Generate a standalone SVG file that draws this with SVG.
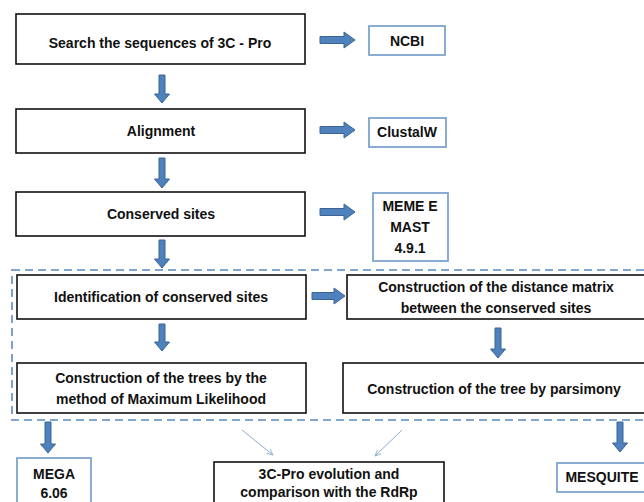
<svg xmlns="http://www.w3.org/2000/svg" width="644" height="502" viewBox="0 0 644 502">
<defs>
<style>
.box{fill:#fff;stroke:#111;stroke-width:1.6}
.tool{fill:#fff;stroke:#7EA3CF;stroke-width:1.8}
.arr{fill:#4F81BD;stroke:#3A6494;stroke-width:1}
.dash{fill:none;stroke:#5A8AC0;stroke-width:1.6;stroke-dasharray:8 5}
.thin{stroke:#8FAACB;stroke-width:1;fill:none}
text{font-family:"Liberation Sans",Arial,sans-serif;font-weight:bold;font-size:14px;fill:#111;text-anchor:middle;dominant-baseline:central}
</style>
<marker id="th" viewBox="0 0 10 10" refX="9" refY="5" markerWidth="7" markerHeight="7" orient="auto" markerUnits="userSpaceOnUse">
<path d="M0,1 L9,5 L0,9" fill="none" stroke="#8FAACB" stroke-width="1.2"/>
</marker>
</defs>
<rect class="dash" x="12" y="270" width="650" height="150"/>
<g id="n1"><rect class="box" x="16" y="14" width="289" height="50"/><text x="160" y="43">Search the sequences of 3C - Pro</text></g>
<g id="n2"><rect class="box" x="16" y="109" width="289" height="44"/><text x="161" y="131">Alignment</text></g>
<g id="n3"><rect class="box" x="16" y="192" width="289" height="44"/><text x="161" y="214">Conserved sites</text></g>
<g id="ncbi"><rect class="tool" x="369" y="26" width="76" height="29"/><text x="407" y="41">NCBI</text></g>
<g id="clustal"><rect class="tool" x="369" y="118" width="77" height="29"/><text x="407" y="132">ClustalW</text></g>
<g id="meme"><rect class="tool" x="373" y="193" width="75" height="68"/><text x="410" y="206">MEME E</text><text x="410" y="227">MAST</text><text x="410" y="248">4.9.1</text></g>
<g id="n4"><rect class="box" x="17" y="275" width="289" height="44"/><text x="161" y="297">Identification of conserved sites</text></g>
<g id="n5"><rect class="box" x="347" y="275" width="310" height="44"/><text x="496" y="287">Construction of the distance matrix</text><text x="496" y="308">between the conserved sites</text></g>
<g id="n6"><rect class="box" x="17" y="363" width="289" height="50"/><text x="161" y="378">Construction of the trees by the</text><text x="161" y="399">method of Maximum Likelihood</text></g>
<g id="n7"><rect class="box" x="343" y="363" width="310" height="50"/><text x="494" y="389">Construction of the tree by parsimony</text></g>
<g id="mega"><rect class="tool" x="17" y="458" width="74" height="60"/><text x="54" y="474">MEGA</text><text x="54" y="493">6.06</text></g>
<g id="n8"><rect class="box" x="214" y="462" width="230" height="50"/><text x="329" y="474">3C-Pro evolution and</text><text x="329" y="492">comparison with the RdRp</text></g>
<g id="mesquite"><rect class="tool" x="557" y="463" width="100" height="29"/><text x="602" y="477">MESQUITE</text></g>
<g id="connectors">
<path class="arr" d="M159,75 H165 V94 H169.5 L162,103 L154.5,94 H159 Z"/>
<path class="arr" d="M159,158 H165 V179 H169.5 L162,188 L154.5,179 H159 Z"/>
<path class="arr" d="M159,240 H165 V259 H169.5 L162,268 L154.5,259 H159 Z"/>
<path class="arr" d="M159,324 H165 V342 H169.5 L162,351 L154.5,342 H159 Z"/>
<path class="arr" d="M495,328 H501 V349 H505.5 L498,358 L490.5,349 H495 Z"/>
<path class="arr" d="M45,422 H51 V444 H55.5 L48,453 L40.5,444 H45 Z"/>
<path class="arr" d="M617,422 H623 V443 H627.5 L620,452 L612.5,443 H617 Z"/>
<path class="arr" d="M320,36.5 H344 V32 L355,40 L344,48 V43.5 H320 Z"/>
<path class="arr" d="M320,126.5 H344 V122 L355,130 L344,138 V133.5 H320 Z"/>
<path class="arr" d="M320,208.5 H344 V204 L355,212 L344,220 V215.5 H320 Z"/>
<path class="arr" d="M312,292.5 H334 V288 L345,296 L334,304 V299.5 H312 Z"/>
<line class="thin" x1="242" y1="430" x2="273" y2="455" marker-end="url(#th)"/>
<line class="thin" x1="402" y1="430" x2="375" y2="456" marker-end="url(#th)"/>
</g>
</svg>
